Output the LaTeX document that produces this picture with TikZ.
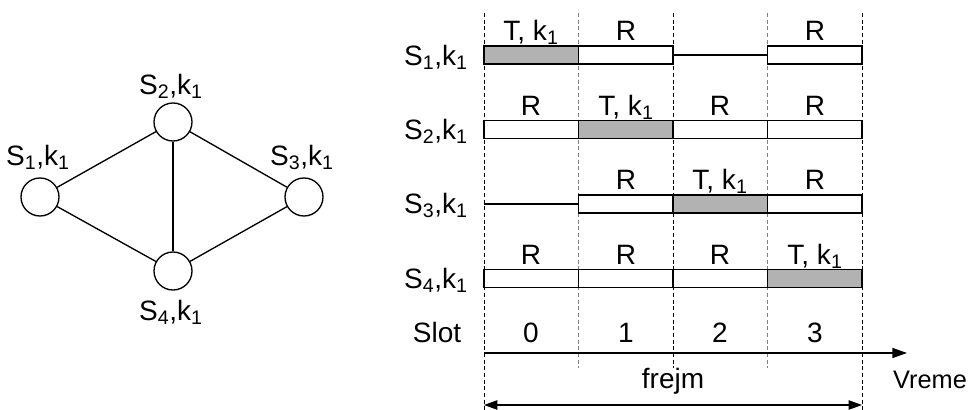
\documentclass[tikz,border=0pt]{standalone}
\usepackage{fontspec}
\setmainfont{Liberation Sans}
\usetikzlibrary{arrows.meta, positioning}
\newcommand{\sk}[1]{S\textsubscript{#1},k\textsubscript{1}}
\newcommand{\tk}{T, k\textsubscript{1}}

\begin{document}
\begin{tikzpicture}[x=0.75pt, y=-0.75pt,
  font=\fontsize{21}{25}\selectfont,
  every node/.style={anchor=base},
  stn/.style={circle, draw, line width=1pt, minimum size=28.5pt, inner sep=0pt, anchor=center},
  link/.style={line width=1pt},
  rx/.style={draw, line width=1.3pt, fill=white},
  tx/.style={draw, line width=1.3pt, fill=black!30},
  idle/.style={line width=1pt},
  grid/.style={dash pattern=on 3pt off 2pt, line width=0.6pt}]

  \useasboundingbox (0,0) rectangle (971,410);

  % network
  \node[stn] (S1) at (40,197) {};
  \node[stn] (S2) at (173,122) {};
  \node[stn] (S3) at (304,197) {};
  \node[stn] (S4) at (173,271) {};
  \node (L1) at (38,165) {\sk1};
  \node (L2) at (171,94) {\sk2};
  \node (L3) at (302,165) {\sk3};
  \node (L4) at (171,320) {\sk4};
  \draw[link] (S1) -- (S2);
  \draw[link] (S1) -- (S4);
  \draw[link] (S2) -- (S4);
  \draw[link] (S2) -- (S3);
  \draw[link] (S3) -- (S4);

  % slot borders
  \foreach \x in {484,862}
    \draw[grid] (\x,13) -- (\x,410);
  \foreach \x in {578.5,767.5}
    \draw[grid, gray] (\x,13) -- (\x,368);
  \draw[grid] (673,13) -- (673,368);

  % S1,k1
  \node (R1) at (436,65) {\sk1};
  \draw[tx] (484,46) rectangle (578.5,64);
  \draw[rx] (578.5,46) rectangle (673,64);
  \draw[idle] (673,55) -- (767.5,55);
  \draw[rx] (767.5,46) rectangle (862,64);
  \node (a10) at (531,40.5) {\tk};
  \node (a11) at (626,40.5) {R};
  \node (a13) at (815,40.5) {R};

  % S2,k1
  \node (R2) at (436,139.5) {\sk2};
  \draw[rx] (484,120.5) rectangle (578.5,138.5);
  \draw[tx] (578.5,120.5) rectangle (673,138.5);
  \draw[rx] (673,120.5) rectangle (767.5,138.5);
  \draw[rx] (767.5,120.5) rectangle (862,138.5);
  \node (a20) at (531,115) {R};
  \node (a21) at (626,115) {\tk};
  \node (a22) at (720,115) {R};
  \node (a23) at (815,115) {R};

  % S3,k1
  \node (R3) at (436,213.5) {\sk3};
  \draw[idle] (484,204) -- (578.5,204);
  \draw[rx] (578.5,195) rectangle (673,213);
  \draw[tx] (673,195) rectangle (767.5,213);
  \draw[rx] (767.5,195) rectangle (862,213);
  \node (a31) at (626,189.5) {R};
  \node (a32) at (720,189.5) {\tk};
  \node (a33) at (815,189.5) {R};

  % S4,k1
  \node (R4) at (436,288) {\sk4};
  \draw[rx] (484,269.5) rectangle (578.5,287.5);
  \draw[rx] (578.5,269.5) rectangle (673,287.5);
  \draw[rx] (673,269.5) rectangle (767.5,287.5);
  \draw[tx] (767.5,269.5) rectangle (862,287.5);
  \node (a40) at (531,264) {R};
  \node (a41) at (626,264) {R};
  \node (a42) at (720,264) {R};
  \node (a43) at (815,264) {\tk};

  % slot numbers and time
  \node (slot) at (437,342) {Slot};
  \node (n0) at (531,342) {0};
  \node (n1) at (626,342) {1};
  \node (n2) at (720,342) {2};
  \node (n3) at (815,342) {3};
  \coordinate (t0) at (484,353);
  \coordinate (t1) at (907,353);
  \draw[-{Triangle[length=11pt, width=7.5pt]}, line width=1pt] (t0) -- (t1);
  \node[font=\fontsize{19}{22}\selectfont] (vreme) at (930,388) {Vreme};
  \node (frejm) at (673,388) {frejm};
  \coordinate (f0) at (484,405);
  \coordinate (f1) at (862,405);
  \draw[{Triangle[length=10pt, width=7pt]}-{Triangle[length=10pt, width=7pt]}, line width=0.8pt] (f0) -- (f1);
\end{tikzpicture}
\end{document}
